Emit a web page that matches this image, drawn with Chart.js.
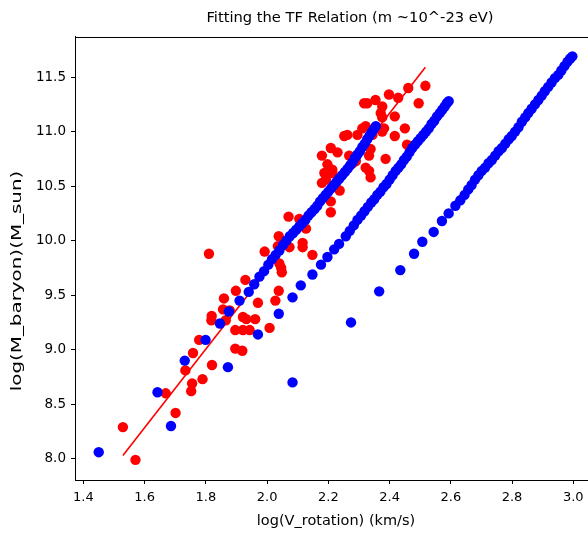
<!DOCTYPE html>
<html>
<head>
<meta charset="utf-8">
<title>Fitting the TF Relation</title>
<script src="https://cdn.jsdelivr.net/npm/chart.js@4.4.1/dist/chart.umd.min.js"></script>
<style>
  html, body { margin: 0; padding: 0; background: #fff; overflow: hidden; }
  #wrap { width: 700px; height: 534px; }
</style>
</head>
<body>
<div id="wrap"><canvas id="tf" width="700" height="534"></canvas></div>
<script>
// observed galaxies (red)
const redX = [1.529, 1.570, 1.669, 1.701, 1.733, 1.752, 1.755, 1.789, 1.758, 1.778,
  1.820, 1.810, 1.819, 1.818, 1.856, 1.865, 1.859, 1.878, 1.898, 1.896,
  1.921, 1.943, 1.896, 1.919, 1.929, 1.921, 1.932, 1.970, 1.961, 2.008,
  1.992, 2.027, 2.038, 2.038, 2.035, 2.046, 2.048, 2.040, 2.073, 2.116,
  2.116, 2.148, 2.070, 2.105, 2.127, 2.208, 2.208, 2.237, 2.179, 2.187,
  2.197, 2.213, 2.179, 2.208, 2.230, 2.252, 2.262, 2.295, 2.268, 2.290,
  2.322, 2.338, 2.333, 2.517, 2.461, 2.398, 2.428, 2.495, 2.354, 2.327,
  2.317, 2.376, 2.371, 2.376, 2.417, 2.382, 2.376, 2.450, 2.417, 2.457,
  2.322, 2.344, 2.311, 2.338, 2.333, 2.387, 2.279, 2.213, 2.192];
const redY = [8.29, 7.99, 8.60, 8.42, 8.81, 8.62, 8.69, 8.73, 8.97, 9.09,
  8.86, 9.88, 9.31, 9.27, 9.37, 9.27, 9.47, 9.36, 9.54, 9.18,
  9.18, 9.18, 9.01, 8.99, 9.64, 9.30, 9.28, 9.43, 9.28, 9.20,
  9.90, 9.45, 9.54, 10.04, 9.95, 9.75, 9.71, 9.79, 9.94, 9.98,
  9.94, 9.87, 10.22, 10.20, 10.11, 10.26, 10.36, 10.46, 10.53, 10.62,
  10.70, 10.65, 10.78, 10.85, 10.81, 10.96, 10.97, 10.97, 10.78, 10.73,
  10.67, 10.58, 10.64, 11.42, 11.40, 11.34, 11.31, 11.26, 11.29, 11.26,
  11.26, 11.23, 11.17, 11.13, 11.14, 11.03, 11.00, 11.03, 10.96, 10.88,
  11.05, 10.97, 11.03, 10.84, 10.78, 10.75, 10.71, 10.62, 10.56];

// model curves (blue), three groups
const blueAX = [1.450, 1.642, 1.686, 1.731, 1.799, 1.846, 1.875, 1.910, 1.940, 1.958,
  1.975, 1.990, 2.004, 2.016, 2.028, 2.040, 2.052, 2.063, 2.074, 2.085,
  2.095, 2.105, 2.115, 2.125, 2.135, 2.145, 2.155, 2.164, 2.173, 2.182,
  2.191, 2.200, 2.209, 2.218, 2.227, 2.236, 2.245, 2.254, 2.263, 2.271,
  2.279, 2.287, 2.295, 2.303, 2.311, 2.319, 2.327, 2.334, 2.341, 2.348, 2.355];
const blueAY = [8.06, 8.61, 8.30, 8.90, 9.09, 9.24, 9.35, 9.45, 9.53, 9.60,
  9.67, 9.72, 9.78, 9.83, 9.87, 9.91, 9.96, 10.00, 10.04, 10.07,
  10.10, 10.13, 10.16, 10.19, 10.23, 10.26, 10.29, 10.32, 10.36, 10.39,
  10.42, 10.45, 10.48, 10.51, 10.54, 10.57, 10.60, 10.63, 10.66, 10.69,
  10.72, 10.76, 10.79, 10.82, 10.86, 10.89, 10.93, 10.96, 10.99, 11.02, 11.05];
const blueBX = [1.872, 1.970, 2.038, 2.083, 2.110, 2.148, 2.176, 2.197, 2.219, 2.235,
  2.257, 2.270, 2.283, 2.295, 2.307, 2.318, 2.329, 2.340, 2.350, 2.360,
  2.370, 2.380, 2.390, 2.400, 2.410, 2.420, 2.429, 2.438, 2.447, 2.456,
  2.465, 2.474, 2.483, 2.492, 2.501, 2.510, 2.519, 2.528, 2.537, 2.546,
  2.555, 2.564, 2.572, 2.580, 2.587, 2.593];
const blueBY = [8.84, 9.14, 9.33, 9.48, 9.59, 9.69, 9.78, 9.85, 9.92, 9.97,
  10.04, 10.09, 10.14, 10.19, 10.23, 10.27, 10.31, 10.35, 10.38, 10.42,
  10.45, 10.49, 10.52, 10.56, 10.60, 10.64, 10.67, 10.70, 10.74, 10.77,
  10.81, 10.85, 10.88, 10.91, 10.94, 10.97, 11.00, 11.03, 11.07, 11.10,
  11.14, 11.17, 11.20, 11.23, 11.26, 11.28];
const blueCX = [2.083, 2.274, 2.366, 2.435, 2.480, 2.507, 2.544, 2.571, 2.593, 2.615,
  2.631, 2.645, 2.657, 2.668, 2.679, 2.690, 2.701, 2.712, 2.723, 2.734,
  2.745, 2.756, 2.767, 2.778, 2.789, 2.799, 2.810, 2.821, 2.832, 2.843,
  2.853, 2.864, 2.875, 2.886, 2.897, 2.907, 2.918, 2.929, 2.940, 2.951,
  2.961, 2.971, 2.981, 2.990, 2.997];
const blueCY = [8.70, 9.25, 9.535, 9.73, 9.88, 9.99, 10.08, 10.18, 10.25, 10.32,
  10.37, 10.42, 10.47, 10.51, 10.56, 10.60, 10.64, 10.67, 10.71, 10.74,
  10.78, 10.82, 10.85, 10.89, 10.93, 10.96, 11.00, 11.04, 11.09, 11.13,
  11.17, 11.21, 11.25, 11.29, 11.33, 11.37, 11.41, 11.45, 11.49, 11.52,
  11.56, 11.60, 11.64, 11.67, 11.69];

// fitted TF line (end points)
const fitX = [1.529, 2.517];
const fitY = [8.03, 11.59];

const xTicks = [1.4, 1.6, 1.8, 2.0, 2.2, 2.4, 2.6, 2.8, 3.0];
const yTicks = [8.0, 8.5, 9.0, 9.5, 10.0, 10.5, 11.0, 11.5];

const pts = (xs, ys) => xs.map((x, i) => ({ x, y: ys[i] }));
const FONT = 'DejaVu Sans';
const Y_LABEL = 'log(M_baryon)(M_sun)';

// frame round the plot + the (stretched) y label like the reference
const boxPlugin = {
  id: 'box',
  afterDatasetsDraw(chart) {
    const { ctx, chartArea: a } = chart;
    ctx.save();
    ctx.strokeStyle = '#000';
    ctx.lineWidth = 1;
    ctx.strokeRect(Math.round(a.left) + 0.5, Math.round(a.top) + 0.5,
      Math.round(a.right - a.left), Math.round(a.bottom - a.top));
    ctx.restore();
  },
  afterDraw(chart) {
    const ctx = chart.ctx;
    ctx.save();
    ctx.translate(17, 281);
    ctx.rotate(-Math.PI / 2);
    ctx.scale(1.42, 1);
    ctx.font = '14px "' + FONT + '"';
    ctx.fillStyle = '#000';
    ctx.textAlign = 'center';
    ctx.textBaseline = 'middle';
    ctx.fillText(Y_LABEL, 0, 0);
    ctx.restore();
  }
};

function scatterSet(xs, ys, color, order) {
  return {
    type: 'scatter',
    data: pts(xs, ys),
    backgroundColor: color,
    borderWidth: 0,
    pointRadius: 5.2,
    pointHoverRadius: 5.2,
    order
  };
}

new Chart(document.getElementById('tf'), {
  data: {
    datasets: [
      scatterSet(blueAX, blueAY, '#0000ff', 0),
      scatterSet(blueBX, blueBY, '#0000ff', 0),
      scatterSet(blueCX, blueCY, '#0000ff', 0),
      {
        type: 'line',
        data: pts(fitX, fitY),
        borderColor: '#ff0000',
        borderWidth: 1.6,
        pointRadius: 0,
        fill: false,
        order: 1
      },
      scatterSet(redX, redY, '#ff0000', 2)
    ]
  },
  options: {
    responsive: false,
    devicePixelRatio: 1,
    animation: false,
    events: [],
    layout: { padding: 0 },
    plugins: {
      legend: { display: false },
      tooltip: { enabled: false },
      title: {
        display: true,
        text: 'Fitting the TF Relation (m ~10^-23 eV)',
        color: '#000',
        font: { family: FONT, size: 14.7, weight: 'normal', lineHeight: 1.2 },
        padding: { top: 9.5, bottom: 9.6 }
      }
    },
    scales: {
      x: {
        type: 'linear',
        min: 1.3725,
        max: 3.0775,
        afterBuildTicks: s => { s.ticks = xTicks.map(v => ({ value: v })); },
        afterFit: s => { s.height = 54; },
        grid: { drawOnChartArea: false, drawTicks: true, tickLength: 4, color: '#000' },
        border: { display: true, color: '#000' },
        ticks: {
          color: '#000',
          padding: 6,
          maxRotation: 0,
          autoSkip: false,
          font: { family: FONT, size: 13 },
          callback: v => v.toFixed(1)
        },
        title: {
          display: true,
          text: 'log(V_rotation) (km/s)',
          color: '#000',
          font: { family: FONT, size: 14.5 },
          padding: { top: 0, bottom: 4 }
        }
      },
      y: {
        type: 'linear',
        min: 7.805,
        max: 11.87,
        afterBuildTicks: s => { s.ticks = yTicks.map(v => ({ value: v })); },
        afterFit: s => { s.width = 75; },
        grid: { drawOnChartArea: false, drawTicks: true, tickLength: 4, color: '#000' },
        border: { display: true, color: '#000' },
        ticks: {
          color: '#000',
          padding: 5,
          autoSkip: false,
          font: { family: FONT, size: 13.5 },
          callback: v => v.toFixed(1)
        }
      },
      // empty right-hand strip: the figure runs on past the window edge
      yPad: {
        type: 'linear',
        position: 'right',
        display: true,
        afterFit: s => { s.width = 103; },
        grid: { display: false },
        border: { display: false },
        ticks: { display: false }
      }
    }
  },
  plugins: [boxPlugin]
});
</script>
</body>
</html>
